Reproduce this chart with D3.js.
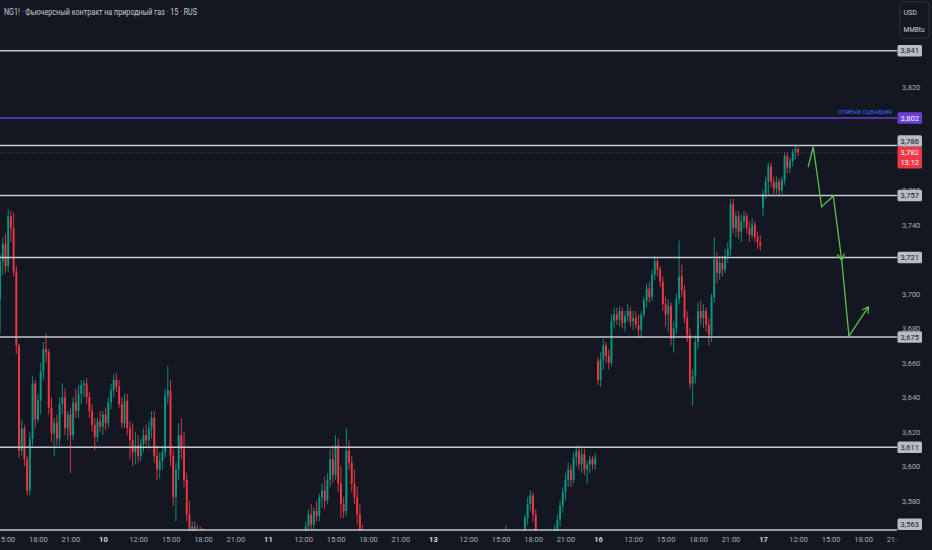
<!DOCTYPE html>
<html><head><meta charset="utf-8">
<script src="https://cdn.jsdelivr.net/npm/d3@7"></script>
<style>
html,body{margin:0;padding:0;background:#131722;overflow:hidden;}
svg{display:block;}
</style></head><body>
<svg id="chart" width="932" height="550"></svg>
<script>
// ---------- data ----------
const title = "NG1! · Фьючерсный контракт на природный газ · 15 · RUS";
const unitLines = ["USD", "MMBtu"];

// 15-minute candles, prices in thousandths of USD
const opens = [
3697,3719,3729,3716,3745,3738,3713,3670,3609,3622,
3604,3586,3616,3648,3627,3638,3655,3668,3666,3634,
3619,3625,3616,3636,3640,3622,3630,3618,3637,3632,
3642,3647,3648,3640,3632,3624,3617,3626,3623,3630,
3625,3637,3644,3650,3646,3636,3625,3638,3622,3615,
3608,3612,3606,3613,3618,3615,3622,3628,3606,3598,
3603,3608,3641,3644,3606,3582,3598,3618,3610,3592,
3572,3560,3565,3555,3562,3550,3548,3540,3535,3538,
3530,3524,3528,3520,3515,3518,3510,3505,3512,3508,
3500,3496,3502,3498,3505,3510,3506,3514,3520,3516,
3512,3518,3525,3521,3528,3532,3527,3535,3540,3536,
3542,3547,3543,3550,3565,3572,3566,3574,3571,3582,
3586,3580,3592,3604,3595,3612,3590,3578,3574,3609,
3602,3590,3582,3572,3562,3555,3548,3552,3545,3540,
3544,3536,3530,3534,3527,3522,3526,3519,3515,3520,
3524,3518,3512,3516,3510,3506,3511,3515,3509,3513,
3518,3522,3517,3521,3526,3530,3525,3529,3534,3530,
3536,3540,3535,3531,3537,3542,3538,3544,3548,3543,
3539,3545,3550,3546,3551,3547,3552,3556,3558,3553,
3549,3554,3550,3555,3558,3570,3578,3583,3572,3560,
3552,3548,3545,3550,3547,3553,3562,3569,3577,3585,
3592,3598,3592,3605,3609,3601,3607,3598,3601,3604,
3601,3661,3650,3662,3670,3664,3660,3684,3688,3685,
3690,3683,3687,3690,3684,3686,3682,3679,3688,3696,
3703,3698,3711,3719,3714,3707,3694,3688,3693,3674,
3680,3697,3710,3702,3686,3676,3648,3652,3672,3690,
3686,3690,3682,3676,3698,3720,3712,3718,3714,3722,
3726,3752,3738,3745,3736,3742,3745,3738,3734,3740,
3733,3730,3750,3758,3765,3774,3765,3761,3765,3760,
3766,3780,3773,3777,3782,3784];
const highs = [
3723,3733,3735,3749,3748,3747,3716,3671,3627,3624,
3606,3620,3652,3650,3642,3660,3672,3677,3668,3640,
3628,3630,3640,3648,3645,3632,3634,3640,3645,3647,
3650,3650,3651,3643,3636,3628,3628,3632,3632,3634,
3640,3648,3653,3654,3650,3640,3642,3642,3626,3625,
3620,3618,3616,3622,3624,3626,3632,3632,3612,3608,
3612,3645,3658,3650,3610,3602,3625,3628,3620,3596,
3580,3568,3568,3566,3565,3564,3551,3543,3541,3540,
3533,3531,3530,3523,3521,3520,3513,3515,3514,3510,
3503,3505,3504,3508,3513,3512,3517,3523,3522,3518,
3521,3528,3527,3531,3535,3534,3538,3543,3542,3545,
3550,3549,3553,3568,3575,3578,3576,3580,3584,3590,
3594,3596,3610,3612,3618,3616,3600,3582,3622,3615,
3606,3598,3588,3578,3566,3558,3555,3554,3548,3547,
3546,3539,3537,3536,3530,3529,3528,3522,3523,3527,
3526,3521,3519,3518,3513,3514,3518,3517,3516,3521,
3525,3524,3524,3529,3533,3532,3532,3537,3536,3539,
3543,3542,3537,3540,3545,3544,3547,3551,3550,3545,
3548,3553,3552,3554,3553,3555,3559,3566,3560,3555,
3557,3556,3558,3561,3572,3582,3586,3585,3575,3562,
3555,3551,3553,3552,3556,3566,3572,3580,3588,3596,
3602,3601,3608,3612,3612,3611,3610,3603,3606,3606,
3608,3663,3666,3674,3672,3668,3688,3692,3692,3693,
3692,3690,3694,3692,3690,3690,3688,3690,3698,3706,
3707,3714,3722,3721,3716,3710,3698,3697,3695,3684,
3700,3731,3717,3705,3690,3680,3656,3676,3695,3696,
3694,3692,3686,3700,3733,3724,3722,3722,3726,3730,
3755,3755,3748,3748,3746,3748,3747,3742,3744,3742,
3736,3734,3760,3768,3776,3776,3768,3768,3767,3768,
3782,3782,3779,3784,3786,3785];
const lows = [
3677,3711,3712,3713,3730,3710,3665,3605,3606,3600,
3583,3583,3612,3622,3625,3630,3650,3660,3630,3614,
3606,3612,3612,3630,3618,3615,3596,3615,3628,3628,
3636,3640,3636,3628,3620,3609,3614,3620,3618,3621,
3622,3633,3640,3643,3634,3622,3622,3618,3604,3600,
3601,3602,3603,3608,3612,3610,3616,3602,3592,3593,
3598,3605,3636,3600,3577,3568,3592,3604,3588,3568,
3556,3552,3550,3548,3545,3542,3536,3531,3532,3526,
3520,3521,3516,3511,3512,3506,3501,3502,3504,3496,
3492,3493,3494,3495,3502,3502,3503,3511,3512,3508,
3509,3515,3517,3518,3525,3523,3524,3532,3532,3533,
3539,3539,3540,3547,3560,3562,3562,3568,3568,3576,
3575,3578,3588,3590,3592,3585,3570,3570,3571,3598,
3585,3578,3566,3558,3550,3544,3545,3541,3536,3537,
3532,3526,3527,3523,3518,3519,3515,3511,3512,3517,
3514,3508,3509,3506,3502,3503,3508,3505,3506,3510,
3515,3513,3514,3518,3523,3521,3522,3526,3526,3527,
3533,3531,3527,3528,3534,3534,3535,3541,3539,3535,
3536,3542,3542,3543,3543,3544,3549,3553,3549,3545,
3546,3546,3547,3552,3556,3566,3574,3568,3555,3548,
3544,3541,3542,3543,3544,3550,3558,3565,3573,3580,
3588,3588,3590,3600,3598,3596,3595,3590,3596,3598,
3598,3647,3646,3656,3660,3656,3658,3680,3682,3681,
3680,3678,3684,3681,3679,3680,3675,3675,3686,3692,
3695,3696,3708,3710,3704,3690,3681,3678,3670,3666,
3677,3694,3698,3683,3672,3645,3635,3648,3668,3682,
3680,3678,3670,3672,3695,3706,3708,3710,3712,3718,
3722,3735,3733,3732,3730,3738,3735,3730,3732,3730,
3726,3725,3745,3755,3757,3762,3758,3758,3757,3758,
3763,3770,3770,3774,3778,3780];
const closes = [
3719,3729,3716,3745,3738,3713,3670,3609,3622,3604,
3586,3616,3648,3627,3638,3655,3668,3666,3634,3619,
3625,3616,3636,3640,3622,3630,3618,3637,3632,3642,
3647,3648,3640,3632,3624,3617,3626,3623,3630,3625,
3637,3644,3650,3646,3636,3625,3638,3622,3615,3608,
3612,3606,3613,3618,3615,3622,3628,3606,3598,3603,
3608,3641,3644,3606,3582,3598,3618,3610,3592,3572,
3560,3565,3555,3562,3550,3548,3540,3535,3538,3530,
3524,3528,3520,3515,3518,3510,3505,3512,3508,3500,
3496,3502,3498,3505,3510,3506,3514,3520,3516,3512,
3518,3525,3521,3528,3532,3527,3535,3540,3536,3542,
3547,3543,3550,3565,3572,3566,3574,3571,3582,3586,
3580,3592,3604,3595,3612,3590,3578,3574,3609,3602,
3590,3582,3572,3562,3555,3548,3552,3545,3540,3544,
3536,3530,3534,3527,3522,3526,3519,3515,3520,3524,
3518,3512,3516,3510,3506,3511,3515,3509,3513,3518,
3522,3517,3521,3526,3530,3525,3529,3534,3530,3536,
3540,3535,3531,3537,3542,3538,3544,3548,3543,3539,
3545,3550,3546,3551,3547,3552,3556,3558,3553,3549,
3554,3550,3555,3558,3570,3578,3583,3572,3560,3552,
3548,3545,3550,3547,3553,3562,3569,3577,3585,3592,
3598,3592,3605,3609,3601,3607,3598,3601,3604,3601,
3605,3650,3662,3670,3664,3660,3684,3688,3685,3690,
3683,3687,3690,3684,3686,3682,3679,3688,3696,3703,
3698,3711,3719,3714,3707,3694,3688,3693,3674,3680,
3697,3710,3702,3686,3676,3648,3652,3672,3690,3686,
3690,3682,3676,3698,3720,3712,3718,3714,3722,3726,
3752,3738,3745,3736,3742,3745,3738,3734,3740,3733,
3730,3728,3758,3765,3774,3765,3761,3765,3760,3766,
3780,3773,3777,3782,3784,3782];

// time axis (candle index of each label)
const timeTickIndex = [2,14,26,38,51,63,75,87,99,112,124,136,148,160,173,185,197,209,221,234,246,258,270,282,295,307,319,331];
const timeTickLabels = ["15:00","18:00","21:00","10","12:00","15:00","18:00","21:00","11","12:00","15:00","18:00","21:00","13","12:00","15:00","18:00","21:00","16","12:00","15:00","18:00","21:00","17","12:00","15:00","18:00","21:00"];
const dayLabels = ["10","11","13","16","17"];

// price axis (labels fully hidden behind price boxes are left out)
const priceTicks = [3.58,3.60,3.62,3.64,3.66,3.68,3.70,3.74,3.76,3.82];

// drawings
const levelLines = [3.841, 3.786, 3.757, 3.721, 3.675, 3.611, 3.563];
const cancelLevel = 3.802;
const cancelLabel = "отмена сценария";
const lastPrice = 3.782;
const countdown = "13:12";
// scenario arrow: [candle index, price]
const scenarioPath = [[298.7,3.7735],[300.6,3.7853],[303.7,3.7505],[308.0,3.7567],[311.1,3.7196],[313.8,3.6755],[321.0,3.6925]];
const arrowHeadAt = [4, 6];

// ---------- drawing ----------
const W = 932, H = 550, plotRight = 897, plotBottom = 531;
const up = "#089981", down = "#f23645";
const font = "Roboto, 'Noto Sans', 'DejaVu Sans', sans-serif";
const fmt = p => d3.format(".3f")(p).replace(".", ",");

const svg = d3.select("#chart");
const x = d3.scaleLinear().domain([0, 331]).range([0.09, 895.5]);
const y = d3.scaleLinear().domain([3.841, 3.563]).range([50.7, 530]);

const defs = svg.append("defs");
defs.append("clipPath").attr("id", "plotClip").append("rect")
  .attr("x", 0).attr("y", 0).attr("width", plotRight).attr("height", plotBottom);
defs.append("clipPath").attr("id", "timeClip").append("rect")
  .attr("x", 0).attr("y", 0).attr("width", plotRight).attr("height", H - plotBottom);

svg.append("rect").attr("width", W).attr("height", H).attr("fill", "#131722");

const candles = closes.map((c, i) => ({ i, o: opens[i] / 1000, h: highs[i] / 1000, l: lows[i] / 1000, c: c / 1000 }));
const plot = svg.append("g").attr("clip-path", "url(#plotClip)");

const cg = plot.append("g");
cg.selectAll("line.wick").data(candles).join("line").attr("class", "wick")
  .attr("x1", d => x(d.i)).attr("x2", d => x(d.i))
  .attr("y1", d => y(d.h)).attr("y2", d => y(d.l))
  .attr("stroke", d => d.c >= d.o ? up : down).attr("stroke-width", 0.9);
cg.selectAll("rect.body").data(candles).join("rect").attr("class", "body")
  .attr("x", d => x(d.i) - 0.95).attr("width", 1.9)
  .attr("y", d => y(Math.max(d.o, d.c)))
  .attr("height", d => Math.max(0.8, Math.abs(y(d.o) - y(d.c))))
  .attr("fill", d => d.c >= d.o ? up : down);

// current price line
plot.append("line").attr("x1", 0).attr("x2", plotRight)
  .attr("y1", y(lastPrice)).attr("y2", y(lastPrice))
  .attr("stroke", "#f23645").attr("stroke-opacity", 0.35).attr("stroke-width", 1).attr("stroke-dasharray", "1 1");

// horizontal levels
plot.selectAll("line.level").data(levelLines).join("line").attr("class", "level")
  .attr("x1", 0).attr("x2", plotRight).attr("y1", d => y(d)).attr("y2", d => y(d))
  .attr("stroke", "#c5c8ce").attr("stroke-width", 1.5);
plot.append("line").attr("x1", 0).attr("x2", plotRight)
  .attr("y1", y(cancelLevel)).attr("y2", y(cancelLevel))
  .attr("stroke", "#6a3fd6").attr("stroke-width", 1.4);
plot.append("text").attr("x", 892).attr("y", y(cancelLevel) - 3.5)
  .attr("text-anchor", "end").attr("fill", "#3a62f0")
  .attr("font-family", font).attr("font-size", 8).attr("textLength", 54).attr("lengthAdjust", "spacingAndGlyphs")
  .text(cancelLabel);

// scenario arrows
const arrowColor = "#5fbf4c";
const line = d3.line().x(d => x(d[0])).y(d => y(d[1]));
plot.append("path").attr("d", line(scenarioPath)).attr("fill", "none")
  .attr("stroke", arrowColor).attr("stroke-width", 1.3).attr("stroke-linejoin", "miter");
arrowHeadAt.forEach(idx => {
  const a = scenarioPath[idx - 1], b = scenarioPath[idx];
  const x1 = x(a[0]), y1 = y(a[1]), x2 = x(b[0]), y2 = y(b[1]);
  const ang = Math.atan2(y2 - y1, x2 - x1);
  const len = 7;
  [Math.PI * 0.83, -Math.PI * 0.83].forEach(da => {
    plot.append("line").attr("x1", x2).attr("y1", y2)
      .attr("x2", x2 + len * Math.cos(ang + da)).attr("y2", y2 + len * Math.sin(ang + da))
      .attr("stroke", arrowColor).attr("stroke-width", 1.3);
  });
});

// title
svg.append("text").attr("x", 4).attr("y", 15).attr("fill", "#c9ccd4")
  .attr("font-family", font).attr("font-size", 9.5)
  .attr("textLength", 193).attr("lengthAdjust", "spacingAndGlyphs").text(title);

// price axis
const yAxis = d3.axisRight(y).tickValues(priceTicks).tickSize(0).tickPadding(5).tickFormat(fmt);
const ya = svg.append("g").attr("transform", `translate(${plotRight},0)`).call(yAxis);
ya.select(".domain").remove();
ya.attr("font-family", font).attr("font-size", 7.5);
ya.selectAll("text").attr("fill", "#a9acb5");

// time axis
const xAxis = d3.axisBottom(x).tickValues(timeTickIndex).tickSize(0).tickPadding(6)
  .tickFormat((d, i) => timeTickLabels[i]);
const xa = svg.append("g").attr("transform", `translate(0,${plotBottom})`).attr("clip-path", "url(#timeClip)").call(xAxis);
xa.select(".domain").remove();
xa.attr("font-family", font).attr("font-size", 7.5);
xa.selectAll("text")
  .attr("font-weight", (d, i) => dayLabels.includes(timeTickLabels[i]) ? "bold" : null)
  .attr("fill", (d, i) => dayLabels.includes(timeTickLabels[i]) ? "#d1d4dc" : "#a9acb5");

// price label boxes
const boxH = 11.5;
const lastBox = { p: lastPrice, texts: [fmt(lastPrice), countdown], fill: "#f23645", color: "#ffffff" };
lastBox.top = y(lastPrice) - boxH / 2; lastBox.h = boxH * 1.9;
const boxes = levelLines.map(p => ({ p, texts: [fmt(p)], fill: "#b9bcc4", color: "#131722" }));
boxes.push({ p: cancelLevel, texts: [fmt(cancelLevel)], fill: "#6a3fd6", color: "#ffffff" });
boxes.forEach(b => {
  b.h = boxH; b.top = y(b.p) - boxH / 2;
  const lb = lastBox.top + lastBox.h;
  if (b.top < lb && b.top + b.h > lastBox.top) {
    if (y(b.p) < y(lastPrice)) b.top = lastBox.top - b.h; else b.top = lb;
  }
  if (b.top + b.h > plotBottom - 1) b.top = plotBottom - 1 - b.h;
});
boxes.push(lastBox);
const bg = svg.append("g").attr("font-family", font).attr("font-size", 7.5);
boxes.forEach(b => {
  bg.append("rect").attr("x", 897.5).attr("y", b.top).attr("width", 24.5).attr("height", b.h)
    .attr("rx", 1.5).attr("fill", b.fill);
  b.texts.forEach((t, j) => {
    bg.append("text").attr("x", 909.75).attr("y", b.top + boxH / 2 + 2.7 + j * boxH * 0.9)
      .attr("text-anchor", "middle").attr("fill", b.color).text(t);
  });
});

// unit box
const ub = svg.append("g").attr("font-family", font).attr("font-size", 7);
ub.append("rect").attr("x", 900).attr("y", 2).attr("width", 29).attr("height", 36).attr("rx", 3)
  .attr("fill", "#131722").attr("stroke", "#3a3e4a").attr("stroke-width", 0.8);
unitLines.forEach((t, j) => {
  ub.append("text").attr("x", 903.5).attr("y", 14.5 + j * 17).attr("fill", "#d1d4dc")
    .attr("textLength", j === 1 ? 21 : null).attr("lengthAdjust", "spacingAndGlyphs").text(t);
});
</script>
</body></html>
